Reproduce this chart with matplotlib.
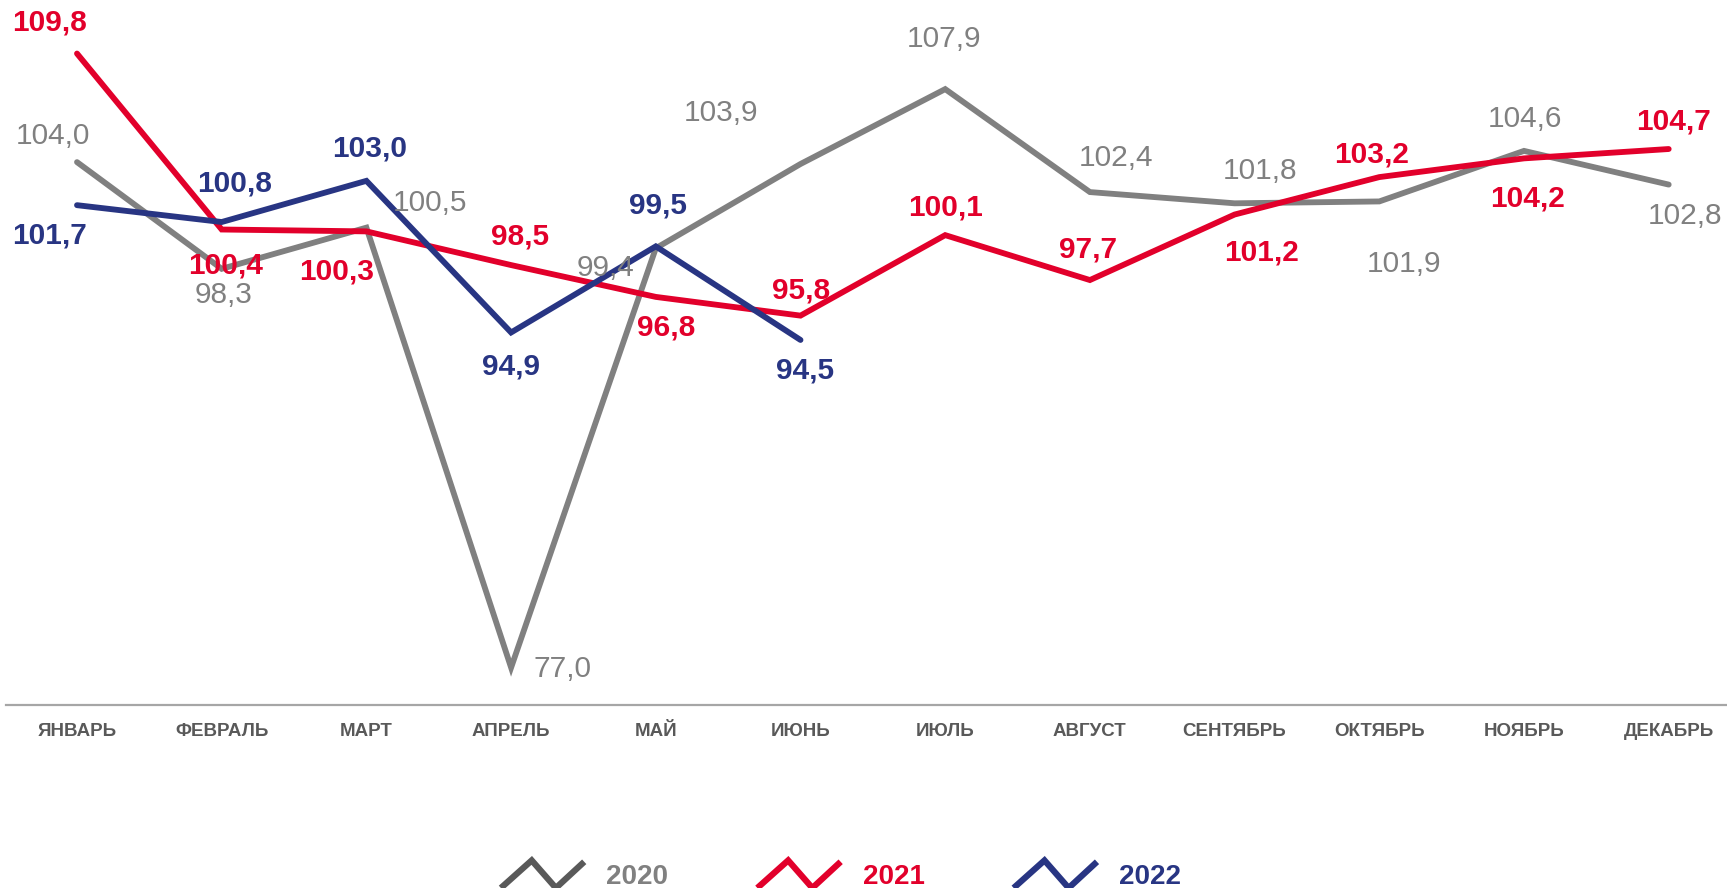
import matplotlib
matplotlib.use("Agg")
import matplotlib.pyplot as plt
from matplotlib.lines import Line2D
from matplotlib.legend_handler import HandlerBase

# data
months = ["ЯНВАРЬ", "ФЕВРАЛЬ", "МАРТ", "АПРЕЛЬ", "МАЙ", "ИЮНЬ",
          "ИЮЛЬ", "АВГУСТ", "СЕНТЯБРЬ", "ОКТЯБРЬ", "НОЯБРЬ", "ДЕКАБРЬ"]
years = ["2020", "2021", "2022"]
vals_2020 = [104.0, 98.3, 100.5, 77.0, 99.4, 103.9, 107.9, 102.4, 101.8, 101.9, 104.6, 102.8]
vals_2021 = [109.8, 100.4, 100.3, 98.5, 96.8, 95.8, 100.1, 97.7, 101.2, 103.2, 104.2, 104.7]
vals_2022 = [101.7, 100.8, 103.0, 94.9, 99.5, 94.5]

# label offsets in pixels (dx, dy) from each point
off_2020 = [(-24, 26), (2, -26), (64, 25), (51, -1), (-50, -20), (-79, 51),
            (-1, 50), (26, 34), (25, 32), (25, -63), (1, 32), (16, -31)]
off_2021 = [(-27, 31), (4, -36), (-30, -40), (9, 29), (10, -31), (1, 25),
            (0, 28), (-2, 31), (27, -38), (-8, 23), (4, -40), (5, 28)]
off_2022 = [(-27, -30), (13, 39), (3, 32), (0, -34), (2, 41), (5, -31)]

RED = "#E2002B"
NAVY = "#283583"
GRAY = "#808080"
DARK = "#595959"

NARROW = ["Liberation Sans Narrow", "Liberation Sans", "DejaVu Sans"]
ARIAL = ["Liberation Sans", "DejaVu Sans"]


class ZigzagHandler(HandlerBase):
    def create_artists(self, legend, orig_handle, xdescent, ydescent,
                       width, height, fontsize, trans):
        xs = [0.0, 0.37, 0.66, 1.0]
        ys = [0.0, 1.0, 0.0, 0.95]
        line = Line2D([-xdescent + x * width for x in xs],
                      [-ydescent + y * height for y in ys],
                      color=orig_handle.get_color(), lw=4.5,
                      solid_joinstyle="miter", solid_capstyle="butt",
                      transform=trans)
        return [line]


fig = plt.figure(figsize=(17.27, 8.88), dpi=100)
ax = fig.add_axes([5.5 / 1727, 183 / 888, 1 - 5.5 / 1727, 705 / 888])

x = list(range(len(months)))
series = [(vals_2020, off_2020, GRAY, "normal"),
          (vals_2021, off_2021, RED, "bold"),
          (vals_2022, off_2022, NAVY, "bold")]

for vals, offs, col, weight in series:
    xs = x[:len(vals)]
    ax.plot(xs, vals, color=col, lw=4.2, solid_capstyle="round",
            solid_joinstyle="miter")
    for xi, v, (dx, dy) in zip(xs, vals, offs):
        ax.annotate(f"{v:.1f}".replace(".", ","), (xi, v),
                    xytext=(dx, dy), textcoords="offset pixels",
                    ha="center", va="center", color=col, fontsize=21.5,
                    fontweight=weight, family=ARIAL)

ax.set_xlim((5.5 - 77) / 144.7, (1727 - 77) / 144.7)
ax.set_ylim(75, 75 + 705 / 18.72)
ax.set_xticks(x)
ax.set_xticklabels(months, family=NARROW, fontweight="bold",
                   fontsize=13.5, color=DARK)
ax.tick_params(axis="x", length=0, pad=13)
ax.set_yticks([])
for s in ["top", "right", "left"]:
    ax.spines[s].set_visible(False)
ax.spines["bottom"].set_color("#A6A6A6")
ax.spines["bottom"].set_linewidth(1.6)

handles = [Line2D([], [], color=DARK), Line2D([], [], color=RED),
           Line2D([], [], color=NAVY)]
leg = fig.legend(handles, years, loc="center", bbox_to_anchor=(0.487, 1 - 875 / 888),
                 ncol=3, frameon=False, handler_map={Line2D: ZigzagHandler()},
                 prop={"family": NARROW, "weight": "bold", "size": 20},
                 handlelength=3.0, handleheight=1.15, handletextpad=0.8,
                 columnspacing=3.2, labelcolor=[GRAY, RED, NAVY])

fig.savefig("out.png", dpi=100)
